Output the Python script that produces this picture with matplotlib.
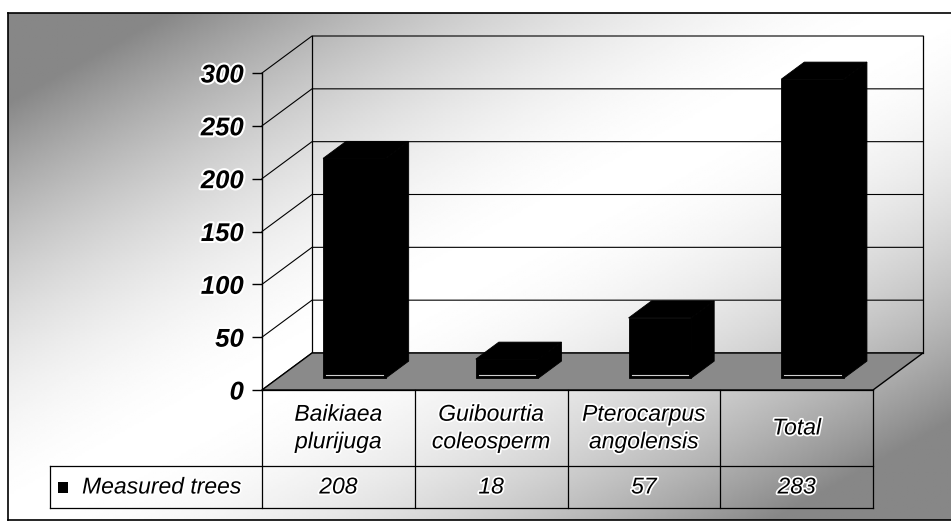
import numpy as np
import matplotlib.pyplot as plt
from matplotlib.patches import Polygon
import matplotlib.patheffects as pe

plt.rcParams['font.family'] = ['Liberation Sans', 'DejaVu Sans']

categories = ['Baikiaea\nplurijuga', 'Guibourtia\ncoleosperm', 'Pterocarpus\nangolensis', 'Total']
measured = [208, 18, 57, 283]
series_name = 'Measured trees'
yticks = [0, 50, 100, 150, 200, 250, 300]

W, H = 951, 528
fig = plt.figure(figsize=(W / 100, H / 100), dpi=100)

# background gradient (dark top-left and bottom-right, light diagonal band)
bg = fig.add_axes([0, 0, 1, 1])
bg.set_xlim(0, W)
bg.set_ylim(H, 0)
bg.axis('off')
xx, yy = np.meshgrid(np.linspace(8, W, 400), np.linspace(13, 520, 240))
u = np.abs(xx / W + yy / H - 1)
g = 1 - 0.47 * np.clip(u * 1.25, 0, 1) ** 1.8
bg.imshow(g, cmap='gray', vmin=0, vmax=1, extent=(8, W, 520, 13), aspect='auto', zorder=0)
bg.plot([8, W], [13, 13], color='black', lw=1.2)
bg.plot([8, 8], [13, 520], color='black', lw=1.2)
bg.plot([8, W], [520, 520], color='black', lw=1.2)

# front plane axes (px: x 262..873, y 390..73)
ax = fig.add_axes([262 / W, 1 - 390 / H, (873 - 262) / W, 317 / H])
ax.set_xlim(0, 4)
ax.set_ylim(0, 300)
ax.patch.set_alpha(0)
for s in ['top', 'right', 'bottom']:
    ax.spines[s].set_visible(False)
ax.spines['left'].set_linewidth(1.0)
ax.set_xticks([])
ax.set_yticks(yticks)
ax.tick_params(axis='y', direction='out', length=7, width=1, pad=6)
for lab in ax.get_yticklabels():
    lab.set_fontsize(18.5)
    lab.set_fontweight('bold')
    lab.set_fontstyle('italic')
    lab.set_path_effects([pe.withStroke(linewidth=3, foreground='white')])

px_x = 611 / 4      # px per category
px_y = 317 / 300    # px per unit
DX = 50 / px_x
DY = 37 / px_y
n = len(categories)

# walls and gridlines
for v in yticks:
    ax.plot([0, DX, n + DX], [v, v + DY, v + DY], color='black', lw=0.8, clip_on=False, zorder=1)
ax.plot([DX, DX], [DY, 300 + DY], color='black', lw=0.9, clip_on=False, zorder=1)
ax.plot([n + DX, n + DX], [DY, 300 + DY], color='black', lw=0.9, clip_on=False, zorder=1)

# floor
floor = Polygon([(0, 0), (n, 0), (n + DX, DY), (DX, DY)], closed=True,
                facecolor='#8a8a8a', edgecolor='black', lw=1, clip_on=False, zorder=2)
ax.add_patch(floor)

# bars
f0, f1 = 0.32, 0.78
bw = 0.41
x = np.arange(n) + 0.5 + f0 * DX
ax.bar(x, measured, width=bw, bottom=f0 * DY, color='black', edgecolor='black',
       lw=0.6, clip_on=False, zorder=3)
ddx, ddy = (f1 - f0) * DX, (f1 - f0) * DY
for xi, v in zip(x, measured):
    x0, x1 = xi - bw / 2, xi + bw / 2
    b0, t0 = f0 * DY, f0 * DY + v
    top = Polygon([(x0, t0), (x1, t0), (x1 + ddx, t0 + ddy), (x0 + ddx, t0 + ddy)],
                  closed=True, facecolor='black', edgecolor='black', lw=0.6,
                  clip_on=False, zorder=3)
    side = Polygon([(x1, b0), (x1 + ddx, b0 + ddy), (x1 + ddx, t0 + ddy), (x1, t0)],
                   closed=True, facecolor='black', edgecolor='black', lw=0.6,
                   clip_on=False, zorder=3)
    ax.add_patch(side)
    ax.add_patch(top)
    # thin highlight near the bar foot
    ax.plot([x0 + 0.02, x1 - 0.02], [b0 + 3, b0 + 3], color='#cfcfcf', lw=0.8,
            clip_on=False, zorder=3.5)

# data table
y_hdr = -(466 - 390) / px_y
y_bot = -(508 - 390) / px_y
x_lab = -(262 - 50) / px_x
tk = dict(color='black', lw=0.9, clip_on=False, zorder=4)
ax.plot([0, n], [0, 0], **tk)
ax.plot([x_lab, n], [y_hdr, y_hdr], **tk)
ax.plot([x_lab, n], [y_bot, y_bot], **tk)
ax.plot([x_lab, x_lab], [y_hdr, y_bot], **tk)
for i in range(n + 1):
    ax.plot([i, i], [0, y_bot], **tk)

halo = [pe.withStroke(linewidth=2.5, foreground='white')]
for i, (c, v) in enumerate(zip(categories, measured)):
    ax.text(i + 0.5, y_hdr / 2, c, ha='center', va='center', fontsize=16.5,
            style='italic', linespacing=1.25, path_effects=halo, clip_on=False)
    ax.text(i + 0.5, (y_hdr + y_bot) / 2, str(v), ha='center', va='center',
            fontsize=16.5, style='italic', path_effects=halo, clip_on=False)
ax.text(x_lab + 0.21, (y_hdr + y_bot) / 2, series_name, ha='left', va='center',
        fontsize=16.5, style='italic', path_effects=halo, clip_on=False)
ax.bar([x_lab + 0.085], [(y_hdr - y_bot) * 0.27], width=0.07,
       bottom=(y_hdr + y_bot) / 2 - (y_hdr - y_bot) * 0.14, color='black',
       clip_on=False, zorder=4)

fig.savefig('out.png', dpi=100)
